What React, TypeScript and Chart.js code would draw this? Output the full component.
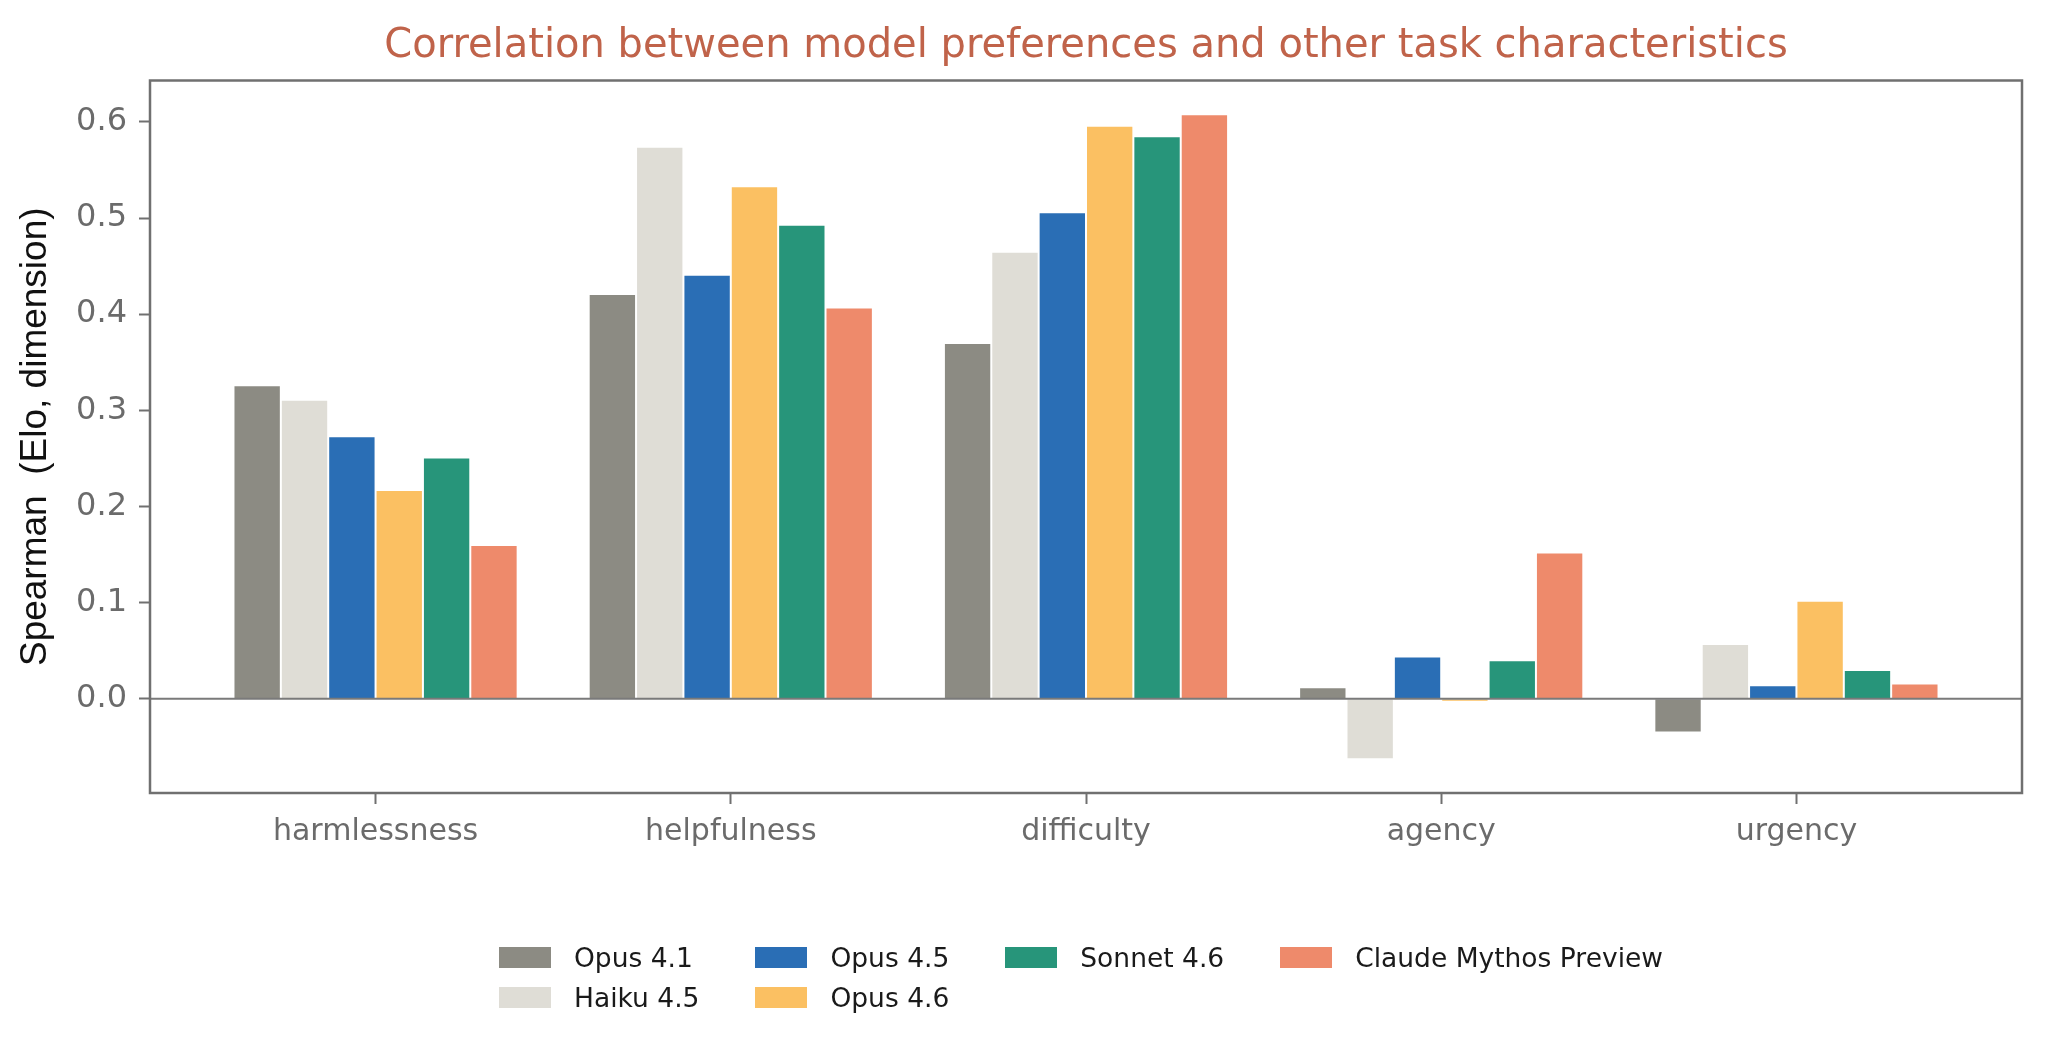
import { useEffect, useRef } from "react";
import { Chart, registerables } from "chart.js";
import type { Plugin } from "chart.js";

Chart.register(...registerables);

// categories along the x axis
const categories = ["harmlessness", "helpfulness", "difficulty", "agency", "urgency"];

// one series per model
const opus41 = [0.326, 0.421, 0.37, 0.012, -0.035];
const haiku45 = [0.311, 0.574, 0.465, -0.063, 0.057];
const opus45 = [0.273, 0.441, 0.506, 0.044, 0.014];
const opus46 = [0.217, 0.533, 0.596, -0.003, 0.102];
const sonnet46 = [0.251, 0.493, 0.585, 0.04, 0.03];
const mythos = [0.16, 0.407, 0.608, 0.152, 0.016];

const modelNames = ["Opus 4.1", "Haiku 4.5", "Opus 4.5", "Opus 4.6", "Sonnet 4.6", "Claude Mythos Preview"];
const modelColors = ["#8c8b83", "#dfddd6", "#2a6eb5", "#fbc062", "#27957a", "#ee8a6b"];
const seriesValues = [opus41, haiku45, opus45, opus46, sonnet46, mythos];

const yTicks = [0, 0.1, 0.2, 0.3, 0.4, 0.5, 0.6];

const FRAME = "#707070";
const TICK_TEXT = "#6b6b6b";
const SANS = "'DejaVu Sans', sans-serif";
const LEGEND_COLS = 4;

// box around the plot plus the zero line drawn over the bars
const framePlugin: Plugin<"bar"> = {
  id: "frame",
  afterDatasetsDraw(chart) {
    const { ctx, chartArea, scales } = chart;
    const y0 = scales.y.getPixelForValue(0);
    ctx.save();
    ctx.strokeStyle = "#7a7a7a";
    ctx.lineWidth = 2;
    ctx.beginPath();
    ctx.moveTo(chartArea.left, y0);
    ctx.lineTo(chartArea.right, y0);
    ctx.stroke();
    ctx.restore();
  },
  afterDraw(chart) {
    const { ctx, chartArea } = chart;
    ctx.save();
    ctx.strokeStyle = FRAME;
    ctx.lineWidth = 2.5;
    ctx.strokeRect(chartArea.left, chartArea.top, chartArea.right - chartArea.left, chartArea.bottom - chartArea.top);
    ctx.restore();
  },
};

const BarChart = () => {
  const canvasRef = useRef<HTMLCanvasElement | null>(null);
  const chartRef = useRef<Chart | null>(null);

  useEffect(() => {
    if (!canvasRef.current) return;
    if (chartRef.current) chartRef.current.destroy();

    chartRef.current = new Chart(canvasRef.current, {
      type: "bar",
      data: {
        datasets: seriesValues.map((vals, k) => ({
          label: modelNames[k],
          data: vals.map((v, i) => ({ x: i, y: v })),
          backgroundColor: modelColors[k],
          borderColor: "rgba(255,255,255,0.85)",
          borderWidth: 1,
          barPercentage: 1,
          categoryPercentage: 0.8,
        })),
      },
      options: {
        animation: false,
        responsive: false,
        maintainAspectRatio: false,
        layout: { padding: { top: 0, right: 26, bottom: 0, left: 0 } },
        plugins: {
          legend: { display: false },
          tooltip: { enabled: false },
          title: {
            display: true,
            fullSize: false,
            text: "Correlation between model preferences and other task characteristics",
            color: "#c0634a",
            font: { family: SANS, size: 40, weight: "normal" },
            padding: { top: 23, bottom: 9.5 },
          },
        },
        scales: {
          x: {
            type: "linear",
            min: -0.635,
            max: 4.635,
            offset: false,
            border: { display: false },
            grid: {
              offset: false,
              drawOnChartArea: false,
              drawTicks: true,
              tickLength: 11,
              tickColor: FRAME,
              tickWidth: 2,
            },
            afterBuildTicks: (scale) => {
              scale.ticks = categories.map((_, i) => ({ value: i }));
            },
            afterFit: (scale) => {
              scale.height = 249;
            },
            ticks: {
              color: TICK_TEXT,
              padding: 10,
              font: { family: SANS, size: 30 },
              callback: (v) => categories[Number(v)] ?? "",
            },
          },
          y: {
            min: -0.098,
            max: 0.643,
            border: { display: false },
            grid: {
              drawOnChartArea: false,
              drawTicks: true,
              tickLength: 11,
              tickColor: FRAME,
              tickWidth: 2,
            },
            afterBuildTicks: (scale) => {
              scale.ticks = yTicks.map((v) => ({ value: v }));
            },
            afterFit: (scale) => {
              scale.width = 150;
            },
            ticks: {
              color: TICK_TEXT,
              padding: 12,
              font: { family: SANS, size: 32 },
              callback: (v) => Number(v).toFixed(1),
            },
            title: {
              display: true,
              text: "Spearman  (Elo, dimension)",
              color: "#111111",
              font: { family: "'Liberation Sans', Arial, sans-serif", size: 37 },
              padding: { top: 14, bottom: 0 },
            },
          },
        },
      },
      plugins: [framePlugin],
    });

    return () => {
      if (chartRef.current) chartRef.current.destroy();
      chartRef.current = null;
    };
  }, []);

  return <canvas ref={canvasRef} width={2048} height={1042} style={{ width: 2048, height: 1042, display: "block" }} />;
};

// matplotlib style legend: 4 columns, filled column by column
const legendCell = (k: number) => {
  const n = modelNames.length;
  const rows = Math.floor(n / LEGEND_COLS);
  const extra = n % LEGEND_COLS;
  let idx = k;
  for (let c = 0; c < LEGEND_COLS; c++) {
    const h = c < extra ? rows + 1 : rows;
    if (idx < h) return { col: c + 1, row: idx + 1 };
    idx -= h;
  }
  return { col: 1, row: 1 };
};

const Legend = () => (
  <div
    style={{
      position: "absolute",
      left: 499,
      top: 937,
      display: "grid",
      gridTemplateRows: "repeat(2, 40px)",
      columnGap: 56,
      fontFamily: SANS,
      fontSize: 26.5,
      color: "#1a1a1a",
    }}
  >
    {modelNames.map((name, k) => {
      const { col, row } = legendCell(k);
      return (
        <div
          key={name}
          style={{ gridColumn: col, gridRow: row, display: "flex", alignItems: "center", whiteSpace: "nowrap" }}
        >
          <span style={{ width: 52, height: 21, background: modelColors[k], marginRight: 23, display: "inline-block" }} />
          <span>{name}</span>
        </div>
      );
    })}
  </div>
);

export default function App() {
  useEffect(() => {
    document.body.style.margin = "0";
  }, []);

  return (
    <div style={{ position: "relative", width: 2048, height: 1042, background: "#ffffff", overflow: "hidden" }}>
      <BarChart />
      <Legend />
    </div>
  );
}
